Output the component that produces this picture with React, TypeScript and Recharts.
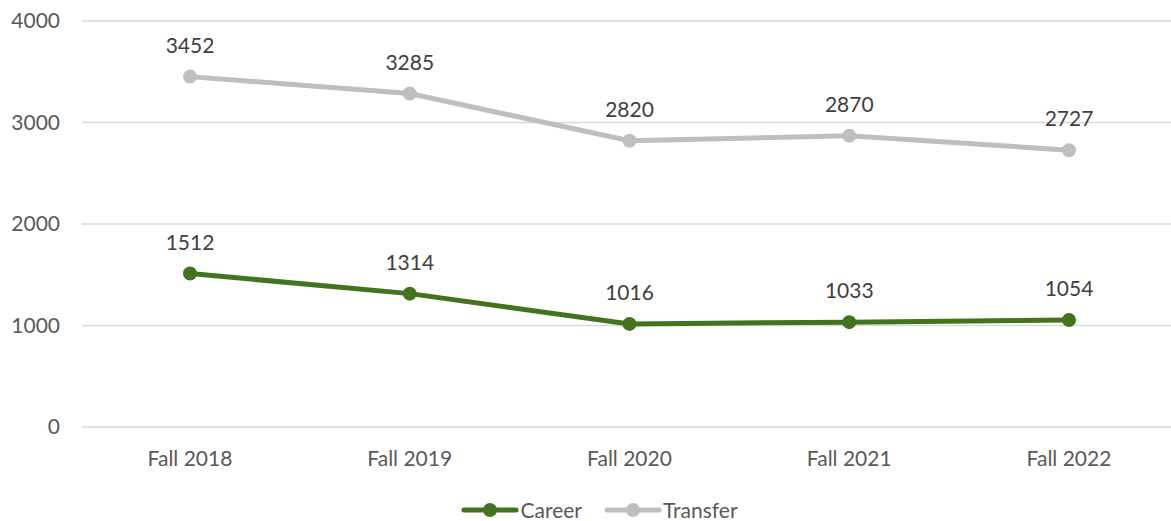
import React from 'react';
import { LineChart, Line, XAxis, YAxis, CartesianGrid, LabelList, Legend } from 'recharts';

const terms = ['Fall 2018', 'Fall 2019', 'Fall 2020', 'Fall 2021', 'Fall 2022'];
const career = [1512, 1314, 1016, 1033, 1054];
const transfer = [3452, 3285, 2820, 2870, 2727];
const yTicks = [0, 1000, 2000, 3000, 4000];

const data = terms.map((term, i) => ({
    term,
    Career: career[i],
    Transfer: transfer[i],
}));

const FONT = 'Lato, "Open Sans", sans-serif';

const legendItems = [
    { name: 'Career', color: '#43731F' },
    { name: 'Transfer', color: '#BFBFBF' },
];

const renderLegend = () => (
    <div style={{ display: 'flex', justifyContent: 'center', gap: 22, fontFamily: FONT, fontSize: 21, color: '#595959', paddingTop: 6, paddingLeft: 28 }}>
        {legendItems.map(item => (
            <div key={item.name} style={{ display: 'flex', alignItems: 'center' }}>
                <svg width={58} height={16}>
                    <line x1={3} y1={8} x2={55} y2={8} stroke={item.color} strokeWidth={5} strokeLinecap="round" />
                    <circle cx={29} cy={8} r={7} fill={item.color} />
                </svg>
                <span style={{ marginLeft: 1 }}>{item.name}</span>
            </div>
        ))}
    </div>
);

export default function App() {
    return (
        <div style={{ position: 'absolute', left: 0, top: 0, background: '#fff' }}>
            <LineChart
                width={1171}
                height={521}
                data={data}
                margin={{ top: 21, right: 0, left: 0, bottom: 0 }}
            >
                <CartesianGrid vertical={false} stroke="#D9D9D9" strokeWidth={1.3} />
                <XAxis
                    dataKey="term"
                    axisLine={false}
                    tickLine={false}
                    height={64}
                    tickMargin={18}
                    padding={{ left: 108, right: 102 }}
                    tick={{ fill: '#595959', fontSize: 21, fontFamily: FONT }}
                />
                <YAxis
                    domain={[0, 4000]}
                    ticks={yTicks}
                    axisLine={false}
                    tickLine={false}
                    width={82}
                    tickMargin={16}
                    tick={{ fill: '#595959', fontSize: 21, fontFamily: FONT }}
                />
                <Legend verticalAlign="bottom" height={30} content={renderLegend} />
                <Line
                    dataKey="Transfer"
                    stroke="#BFBFBF"
                    strokeWidth={5}
                    dot={{ r: 7, fill: '#BFBFBF', stroke: '#BFBFBF', strokeWidth: 0 }}
                    isAnimationActive={false}
                >
                    <LabelList dataKey="Transfer" position="top" offset={24} fill="#404040" fontSize={21} fontFamily={FONT} />
                </Line>
                <Line
                    dataKey="Career"
                    stroke="#43731F"
                    strokeWidth={5}
                    dot={{ r: 7, fill: '#43731F', stroke: '#43731F', strokeWidth: 0 }}
                    isAnimationActive={false}
                >
                    <LabelList dataKey="Career" position="top" offset={24} fill="#404040" fontSize={21} fontFamily={FONT} />
                </Line>
            </LineChart>
        </div>
    );
}
